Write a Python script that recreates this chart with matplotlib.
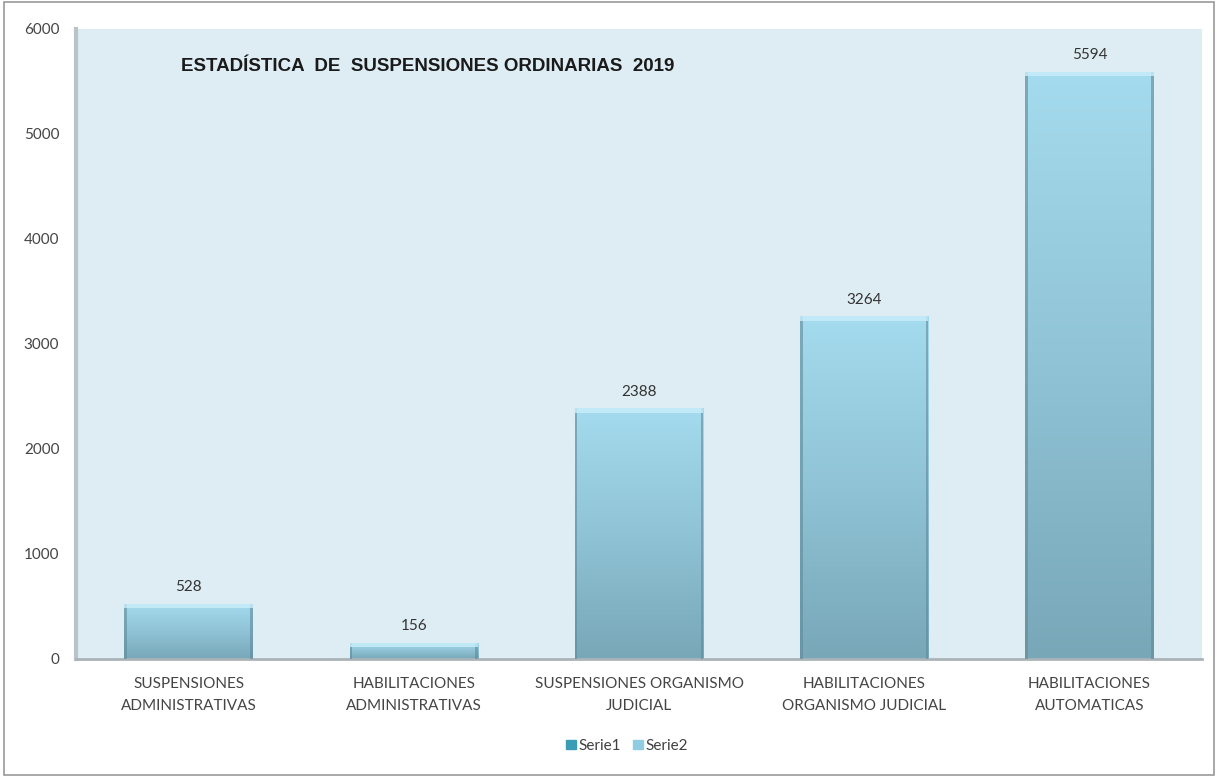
import numpy as np
import matplotlib.pyplot as plt
from matplotlib.colors import LinearSegmentedColormap
from matplotlib.patches import Rectangle

categories = ['SUSPENSIONES\nADMINISTRATIVAS', 'HABILITACIONES\nADMINISTRATIVAS',
              'SUSPENSIONES ORGANISMO\nJUDICIAL', 'HABILITACIONES\nORGANISMO JUDICIAL',
              'HABILITACIONES\nAUTOMATICAS']
values = [528, 156, 2388, 3264, 5594]
series_names = ['Serie1', 'Serie2']
title = 'ESTADÍSTICA  DE  SUSPENSIONES ORDINARIAS  2019'

plt.rcParams['font.family'] = ['Lato', 'DejaVu Sans']

fig = plt.figure(figsize=(12.18, 7.77), dpi=100)
ax = fig.add_axes([0.0624, 0.1519, 0.9245, 0.8108])
ax.set_facecolor('#deedf3')

x = np.arange(len(values))
width = 0.57
bars = ax.bar(x, values, width=width, color='none', edgecolor='none', zorder=2)

# vertical gradient in each bar, light at top, darker at bottom
cmap = LinearSegmentedColormap.from_list('bar', ['#78a7b8', '#8fc3d5', '#a5dbee'])
grad = np.linspace(0, 1, 256).reshape(-1, 1)
for b in bars:
    x0, w, h = b.get_x(), b.get_width(), b.get_height()
    im = ax.imshow(grad, cmap=cmap, origin='lower', aspect='auto',
                   extent=(x0, x0 + w, 0, h), zorder=2)
    im.set_clip_path(b)
    # side shading and top highlight
    ax.add_patch(Rectangle((x0, 0), w * 0.02, h, color='#5f8a99', alpha=0.6, zorder=3, lw=0))
    ax.add_patch(Rectangle((x0 + w * 0.98, 0), w * 0.02, h, color='#5f8a99', alpha=0.6, zorder=3, lw=0))
    ax.add_patch(Rectangle((x0, h - 45), w, 45, color='#c9eefa', alpha=0.8, zorder=3, lw=0))
    ax.text(b.get_x() + w / 2, h + 90, f'{int(h)}', ha='center', va='bottom',
            fontsize=11, color='#333333', zorder=4)

ax.set_xlim(-0.5, len(values) - 0.5)
ax.set_ylim(0, 6000)
ax.set_yticks(range(0, 6001, 1000))
ax.set_xticks(x)
ax.set_xticklabels(categories, fontsize=11, color='#454545', linespacing=1.75)
ax.tick_params(axis='y', length=0, labelsize=11, labelcolor='#454545', pad=12)
ax.tick_params(axis='x', length=0, pad=13)
for s in ['top', 'right']:
    ax.spines[s].set_visible(False)
ax.spines['left'].set_color('#b8c4c8')
ax.spines['left'].set_linewidth(3)
ax.spines['bottom'].set_color('#aab4b8')
ax.spines['bottom'].set_linewidth(2)

ax.text(0.093, 0.94, title, transform=ax.transAxes, fontsize=13.5, fontweight='bold',
        family='Liberation Sans', color='#1a1a1a', va='center')

# legend
h1 = Rectangle((0, 0), 1, 1, color='#3b9cb6')
h2 = Rectangle((0, 0), 1, 1, color='#90cde2')
fig.legend([h1, h2], series_names, loc='center', bbox_to_anchor=(0.515, 0.04), ncol=2,
           frameon=False, fontsize=11, handlelength=0.6, handleheight=0.6,
           handletextpad=0.2, columnspacing=0.8, labelcolor='#404040')

# outer border
fig.add_artist(Rectangle((0.003, 0.003), 0.994, 0.994, transform=fig.transFigure,
                         fill=False, edgecolor='#9a9a9a', lw=1.2))

plt.savefig('out.png', dpi=100)
